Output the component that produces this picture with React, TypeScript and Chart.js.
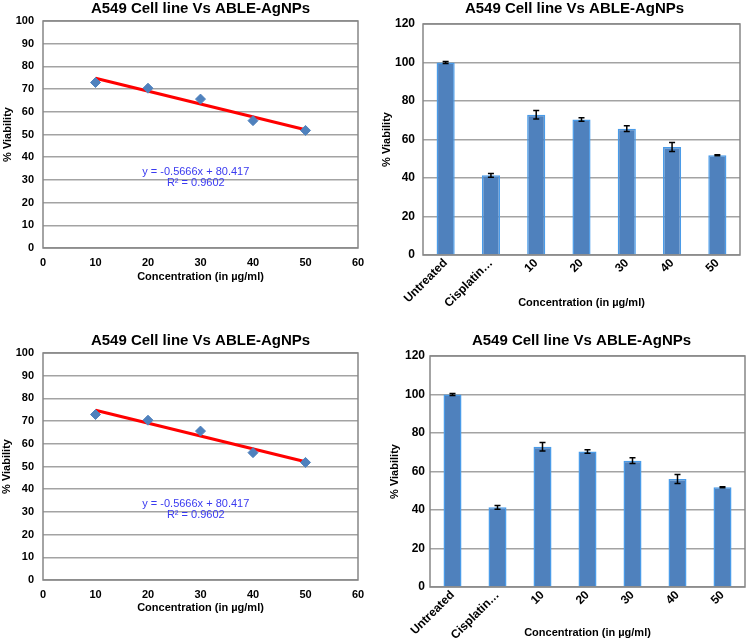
import React, { useEffect, useRef } from 'react';
import { Chart, registerables } from 'chart.js';

Chart.register(...registerables);

// ---------- data ----------
const CHART_TITLE = 'A549 Cell line Vs ABLE-AgNPs';
const X_TITLE = 'Concentration (in µg/ml)';
const Y_TITLE = '% Viability';

const concentrations = [10, 20, 30, 40, 50];
const viability = [72.9, 70.4, 65.6, 56.1, 51.8];
const trendX = [10, 50];
const trendY = [74.75, 52.1];
const trendEquation = 'y = -0.5666x + 80.417';
const trendR2 = 'R² = 0.9602';

const barCategories = ['Untreated', 'Cisplatin…', '10', '20', '30', '40', '50'];
const barValues = [100, 41.4, 72.9, 70.4, 65.6, 56.1, 51.8];
const barErrors = [0.5, 1.0, 2.2, 0.9, 1.5, 2.3, 0.3];

// ---------- styles ----------
const FONT = '"Liberation Sans", Arial, Helvetica, sans-serif';
const POINT_BLUE = '#4F81BD';
const BAR_FILL = '#4F81BD';
const BAR_EDGE = '#4A9BE8';
const GRID = '#A3A3A3';
const FRAME = '#868686';

type Spec = {
  kind: 'scatter' | 'bar';
  x: number; y: number; w: number; h: number;
  padTop: number; padRight: number;
  yWidth: number; xHeight: number;
  titleY: number; titleDx: number;
  yTitlePad: number; xTitlePad: number;
  yTickPad: number; xTickPad: number;
};

const panels: Spec[] = [
  { kind: 'scatter', x: 0, y: 0, w: 374, h: 300, padTop: 21, padRight: 16, yWidth: 43, xHeight: 52, titleY: 8.5, titleDx: 0, yTitlePad: 1, xTitlePad: 16.4, yTickPad: 9, xTickPad: 8 },
  { kind: 'bar', x: 374, y: 0, w: 374, h: 320, padTop: 24, padRight: 8, yWidth: 49, xHeight: 65, titleY: 8.5, titleDx: -7, yTitlePad: 6.4, xTitlePad: 10.4, yTickPad: 8, xTickPad: 1 },
  { kind: 'scatter', x: 0, y: 320, w: 374, h: 323, padTop: 33, padRight: 16, yWidth: 43, xHeight: 63, titleY: 21, titleDx: 0, yTitlePad: 0.4, xTitlePad: 28.4, yTickPad: 9, xTickPad: 8 },
  { kind: 'bar', x: 374, y: 320, w: 374, h: 323, padTop: 36, padRight: 3, yWidth: 56, xHeight: 56, titleY: 21, titleDx: -6, yTitlePad: 14.4, xTitlePad: 3.4, yTickPad: 5, xTickPad: 1 },
];

function makePlugins(spec: Spec) {
  const title = {
    id: 'panelTitle',
    afterDraw(chart: any) {
      const { ctx, chartArea } = chart;
      ctx.save();
      ctx.font = `bold 15px ${FONT}`;
      ctx.fillStyle = '#000';
      ctx.textAlign = 'center';
      ctx.textBaseline = 'middle';
      ctx.fillText(CHART_TITLE, (chartArea.left + chartArea.right) / 2 + spec.titleDx, spec.titleY);
      ctx.restore();
    },
  };
  const frame = {
    id: 'plotFrame',
    beforeDatasetsDraw(chart: any) {
      const { ctx, chartArea } = chart;
      ctx.save();
      ctx.strokeStyle = FRAME;
      ctx.lineWidth = 1.5;
      ctx.strokeRect(chartArea.left, chartArea.top, chartArea.right - chartArea.left, chartArea.bottom - chartArea.top);
      ctx.restore();
    },
  };
  const errorBars = {
    id: 'errorBars',
    afterDatasetsDraw(chart: any) {
      if (spec.kind !== 'bar') return;
      const { ctx } = chart;
      const yScale = chart.scales.y;
      const meta = chart.getDatasetMeta(0);
      ctx.save();
      ctx.strokeStyle = '#000';
      ctx.lineWidth = 1.5;
      meta.data.forEach((el: any, i: number) => {
        const v = barValues[i];
        const e = barErrors[i];
        const x = el.x;
        const yt = yScale.getPixelForValue(v + e);
        const yb = yScale.getPixelForValue(v - e);
        ctx.beginPath();
        ctx.moveTo(x, yt); ctx.lineTo(x, yb);
        ctx.moveTo(x - 3, yt); ctx.lineTo(x + 3, yt);
        ctx.moveTo(x - 3, yb); ctx.lineTo(x + 3, yb);
        ctx.stroke();
      });
      ctx.restore();
    },
  };
  const equation = {
    id: 'equation',
    afterDatasetsDraw(chart: any) {
      if (spec.kind !== 'scatter') return;
      const { ctx, scales } = chart;
      const cx = scales.x.getPixelForValue(29.1);
      ctx.save();
      ctx.font = `11px ${FONT}`;
      ctx.fillStyle = '#3A3AF0';
      ctx.textAlign = 'center';
      ctx.textBaseline = 'middle';
      ctx.fillText(trendEquation, cx, scales.y.getPixelForValue(33.6));
      ctx.fillText(trendR2, cx, scales.y.getPixelForValue(28.5));
      ctx.restore();
    },
  };
  return [title, frame, errorBars, equation];
}

function buildConfig(spec: Spec): any {
  const tickFont = { family: FONT, size: spec.kind === 'bar' ? 12 : 11, weight: 'bold' as const };
  const titleFont = { family: FONT, size: 11, weight: 'bold' as const };
  const yAxis: any = {
    min: 0,
    max: spec.kind === 'bar' ? 120 : 100,
    ticks: { stepSize: spec.kind === 'bar' ? 20 : 10, color: '#000', font: tickFont, padding: spec.yTickPad },
    grid: { color: GRID, lineWidth: 1.5, drawTicks: false },
    border: { display: false },
    title: { display: true, text: Y_TITLE, color: '#000', font: titleFont, padding: { top: spec.yTitlePad, bottom: 0 } },
    afterFit: (s: any) => { s.width = spec.yWidth; },
  };
  const xBase: any = {
    grid: { display: false, drawTicks: false },
    border: { display: false },
    title: { display: true, text: X_TITLE, color: '#000', font: titleFont, padding: { top: 0, bottom: spec.xTitlePad } },
    afterFit: (s: any) => { s.height = spec.xHeight; },
  };
  const common: any = {
    responsive: false,
    animation: false,
    devicePixelRatio: 1,
    layout: { padding: { top: spec.padTop, right: spec.padRight, left: 0, bottom: 0 } },
    plugins: { legend: { display: false }, tooltip: { enabled: false }, title: { display: false } },
  };

  if (spec.kind === 'scatter') {
    return {
      type: 'scatter',
      data: {
        datasets: [
          {
            type: 'line',
            data: trendX.map((x, i) => ({ x, y: trendY[i] })),
            borderColor: '#FF0000',
            borderWidth: 3,
            pointRadius: 0,
            fill: false,
            order: 2,
          },
          {
            data: concentrations.map((x, i) => ({ x, y: viability[i] })),
            pointStyle: 'rectRot',
            pointRadius: 5,
            backgroundColor: POINT_BLUE,
            borderColor: POINT_BLUE,
            borderWidth: 1,
            order: 1,
          },
        ],
      },
      options: {
        ...common,
        scales: {
          x: { ...xBase, type: 'linear', min: 0, max: 60, ticks: { stepSize: 10, color: '#000', font: tickFont, padding: spec.xTickPad } },
          y: yAxis,
        },
      },
      plugins: makePlugins(spec),
    };
  }
  return {
    type: 'bar',
    data: {
      labels: barCategories,
      datasets: [
        {
          data: barValues,
          backgroundColor: BAR_FILL,
          borderColor: BAR_EDGE,
          borderWidth: 1.5,
          barPercentage: 0.4,
          categoryPercentage: 1,
        },
      ],
    },
    options: {
      ...common,
      scales: {
        x: { ...xBase, ticks: { color: '#000', font: tickFont, padding: spec.xTickPad, minRotation: 45, maxRotation: 45, autoSkip: false } },
        y: yAxis,
      },
    },
    plugins: makePlugins(spec),
  };
}

function ChartPanel({ spec }: { spec: Spec }) {
  const ref = useRef<HTMLCanvasElement>(null);
  useEffect(() => {
    const chart = new Chart(ref.current as HTMLCanvasElement, buildConfig(spec));
    return () => chart.destroy();
  }, [spec]);
  return (
    <canvas
      ref={ref}
      width={spec.w}
      height={spec.h}
      style={{ position: 'absolute', left: spec.x, top: spec.y, width: spec.w, height: spec.h }}
    />
  );
}

export default function App() {
  return (
    <div style={{ position: 'absolute', left: 0, top: 0, width: 748, height: 643, background: '#fff' }}>
      {panels.map((p, i) => (
        <ChartPanel key={i} spec={p} />
      ))}
    </div>
  );
}
